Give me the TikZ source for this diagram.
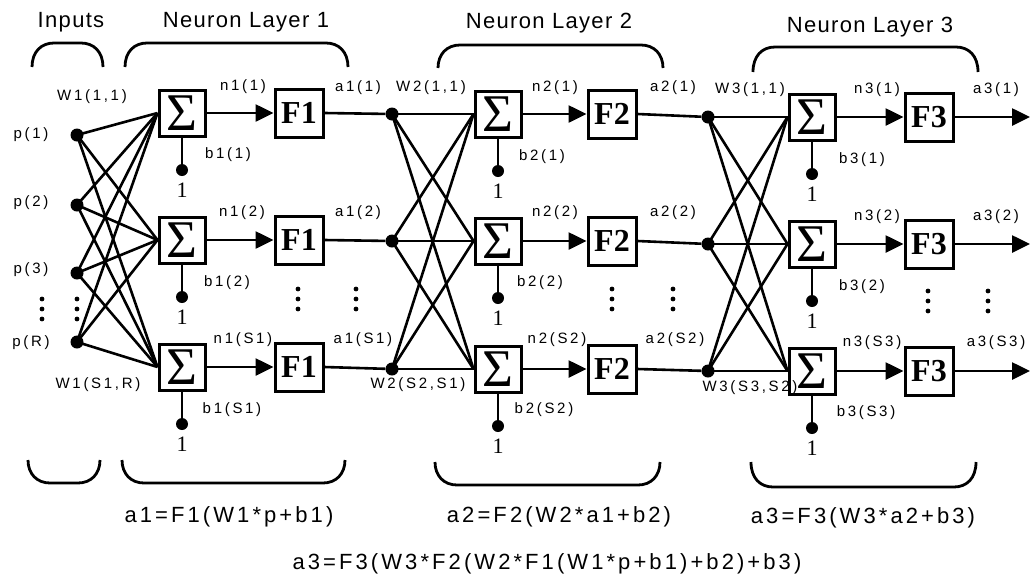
\documentclass[tikz,border=0pt]{standalone}
\usepackage{fontspec}
\usetikzlibrary{arrows.meta}
\newfontfamily\lblfam[LetterSpace=18]{Liberation Sans}
\newfontfamily\ttlfam[LetterSpace=6]{Liberation Sans}
\newfontfamily\frmfam[LetterSpace=14]{Liberation Sans}
\newfontfamily\serfam{Liberation Serif}
\newfontfamily\serbfam{Liberation Serif Bold}
\newcommand\lblfont{\lblfam\fontsize{15}{18}\selectfont}
\newcommand\ttlfont{\ttlfam\fontsize{22}{26}\selectfont}
\newcommand\frmfont{\frmfam\fontsize{22}{26}\selectfont}
\newcommand\sigfont{\serfam\fontsize{53}{55}\selectfont}
\newcommand\ffont{\serbfam\fontsize{32}{36}\selectfont}
\newcommand\onefont{\serfam\fontsize{22}{24}\selectfont}
\newcommand\tbrace[4]{\draw[brace] (#1,#4) .. controls (#1,#3+9) and (#1+9,#3) .. (#1+22,#3) -- (#2-22,#3) .. controls (#2-9,#3) and (#2,#3+9) .. (#2,#4);}
\newcommand\bbrace[4]{\draw[brace] (#1,#4) .. controls (#1,#3-9) and (#1+9,#3) .. (#1+22,#3) -- (#2-22,#3) .. controls (#2-9,#3) and (#2,#3-9) .. (#2,#4);}
\newcommand\vdotsat[2]{\fill (#1,#2-10) circle (2.4pt) (#1,#2) circle (2.4pt) (#1,#2+10) circle (2.4pt);}
\begin{document}
\begin{tikzpicture}[x=1pt,y=-1pt,
  sumbox/.style={draw,line width=3pt,minimum size=46pt,inner sep=0pt,font=\sigfont},
  fbox/.style={draw,line width=3pt,minimum size=48pt,inner sep=0pt,font=\ffont},
  jdot/.style={circle,fill,inner sep=0pt,minimum size=13pt},
  lbl/.style={inner sep=0pt,font=\lblfont},
  ttl/.style={inner sep=0pt,font=\ttlfont},
  frm/.style={inner sep=0pt,font=\frmfont},
  one/.style={inner sep=0pt,font=\onefont},
  conn/.style={line width=2.6pt},
  arr/.style={conn,-{Triangle[length=18pt,width=17pt]}},
  brace/.style={line width=2.8pt}]
\useasboundingbox (0,0) rectangle (1033,582);

% titles
\node[ttl] (tIn) at (71,22) {Inputs};
\node[ttl] (tL1) at (246,22) {Neuron Layer 1};
\node[ttl] (tL2) at (549,23) {Neuron Layer 2};
\node[ttl] (tL3) at (870,27) {Neuron Layer 3};

% braces
\tbrace{32}{103}{43}{67}
\tbrace{125}{348}{43}{67}
\tbrace{438}{663}{45}{68}
\tbrace{753}{978}{47}{72}
\bbrace{28}{100}{483}{460}
\bbrace{122}{345}{483}{460}
\bbrace{435}{660}{485}{462}
\bbrace{751}{976}{487}{462}

% inputs
\node[jdot] (i1) at (77,135) {};
\node[jdot] (i2) at (77,205) {};
\node[jdot] (i3) at (77,273) {};
\node[jdot] (i4) at (77,342) {};
\node[lbl] (pl1) at (31,135) {p(1)};
\node[lbl] (pl2) at (31,203) {p(2)};
\node[lbl] (pl3) at (31,270) {p(3)};
\node[lbl] (pl4) at (31,343) {p(R)};
\vdotsat{42}{309}
\vdotsat{77}{309}

% neurons
\foreach \r/\ya/\yb/\yc in {1/113/114/117,2/240/241/244,3/367/369/371}{
  \node[sumbox] (s1-\r) at (182,\ya) {Σ};
  \node[fbox] (f1-\r) at (299,\ya) {F1};
  \node[jdot] (d2-\r) at (392,\yb) {};
  \node[sumbox] (s2-\r) at (498,\yb) {Σ};
  \node[fbox] (f2-\r) at (612,\yb) {F2};
  \node[jdot] (d3-\r) at (708,\yc) {};
  \node[sumbox] (s3-\r) at (812,\yc) {Σ};
  \node[fbox] (f3-\r) at (929,\yc) {F3};
  \coordinate (o3-\r) at (1030,\yc);
  \node[jdot,minimum size=12pt] (bd1-\r) at (182,\ya+57) {};
  \node[jdot,minimum size=12pt] (bd2-\r) at (498,\yb+57) {};
  \node[jdot,minimum size=12pt] (bd3-\r) at (812,\yc+57) {};
  \node[one] (bo1-\r) at (182,\ya+77) {1};
  \node[one] (bo2-\r) at (498,\yb+77) {1};
  \node[one] (bo3-\r) at (812,\yc+77) {1};
  \draw[conn] (s1-\r.south) -- (bd1-\r);
  \draw[conn] (s2-\r.south) -- (bd2-\r);
  \draw[conn] (s3-\r.south) -- (bd3-\r);
  \draw[arr] (s1-\r.east) -- (f1-\r.west);
  \draw[arr] (s2-\r.east) -- (f2-\r.west);
  \draw[arr] (s3-\r.east) -- (f3-\r.west);
  \draw[conn] (f1-\r.east) -- (d2-\r);
  \draw[conn] (f2-\r.east) -- (d3-\r);
  \draw[arr] (f3-\r.east) -- (o3-\r);
}
% fully connected weights
\foreach \i in {1,2,3,4}{
  \foreach \j in {1,2,3}{
    \draw[conn] (i\i.center) -- (s1-\j.west);
  }
}
\foreach \i in {1,2,3}{
  \foreach \j in {1,2,3}{
    \draw[conn] (d2-\i.center) -- (s2-\j.west);
    \draw[conn] (d3-\i.center) -- (s3-\j.west);
  }
}

% vertical ellipses
\vdotsat{298}{299}
\vdotsat{356}{299}
\vdotsat{612}{299}
\vdotsat{673}{299}
\vdotsat{928}{301}
\vdotsat{988}{301}

% weight labels
\node[lbl] (w1a) at (92,97) {W1(1,1)};
\node[lbl] (w1b) at (98,385) {W1(S1,R)};
\node[lbl] (w2a) at (431,88) {W2(1,1)};
\node[lbl] (w2b) at (418,385) {W2(S2,S1)};
\node[lbl] (w3a) at (750,90) {W3(1,1)};
\node[lbl] (w3b) at (750,388) {W3(S3,S2)};

% n labels
\node[lbl] (n11) at (243,87) {n1(1)};
\node[lbl] (n12) at (242,213) {n1(2)};
\node[lbl] (n13) at (243,340) {n1(S1)};
\node[lbl] (n21) at (555,88) {n2(1)};
\node[lbl] (n22) at (555,213) {n2(2)};
\node[lbl] (n23) at (557,340) {n2(S2)};
\node[lbl] (n31) at (877,90) {n3(1)};
\node[lbl] (n32) at (877,217) {n3(2)};
\node[lbl] (n33) at (872,343) {n3(S3)};

% a labels
\node[lbl] (a11) at (358,88) {a1(1)};
\node[lbl] (a12) at (358,213) {a1(2)};
\node[lbl] (a13) at (363,340) {a1(S1)};
\node[lbl] (a21) at (673,88) {a2(1)};
\node[lbl] (a22) at (673,213) {a2(2)};
\node[lbl] (a23) at (675,340) {a2(S2)};
\node[lbl] (a31) at (996,90) {a3(1)};
\node[lbl] (a32) at (996,217) {a3(2)};
\node[lbl] (a33) at (996,343) {a3(S3)};

% b labels
\node[lbl] (b11) at (228,155) {b1(1)};
\node[lbl] (b12) at (227,283) {b1(2)};
\node[lbl] (b13) at (232,410) {b1(S1)};
\node[lbl] (b21) at (542,157) {b2(1)};
\node[lbl] (b22) at (540,283) {b2(2)};
\node[lbl] (b23) at (544,410) {b2(S2)};
\node[lbl] (b31) at (862,160) {b3(1)};
\node[lbl] (b32) at (862,287) {b3(2)};
\node[lbl] (b33) at (866,413) {b3(S3)};

% formulas
\node[frm] (fa1) at (229,517) {a1=F1(W1*p+b1)};
\node[frm] (fa2) at (559,517) {a2=F2(W2*a1+b2)};
\node[frm] (fa3) at (863,518) {a3=F3(W3*a2+b3)};
\node[frm] (fall) at (547,564) {a3=F3(W3*F2(W2*F1(W1*p+b1)+b2)+b3)};
\end{tikzpicture}
\end{document}
